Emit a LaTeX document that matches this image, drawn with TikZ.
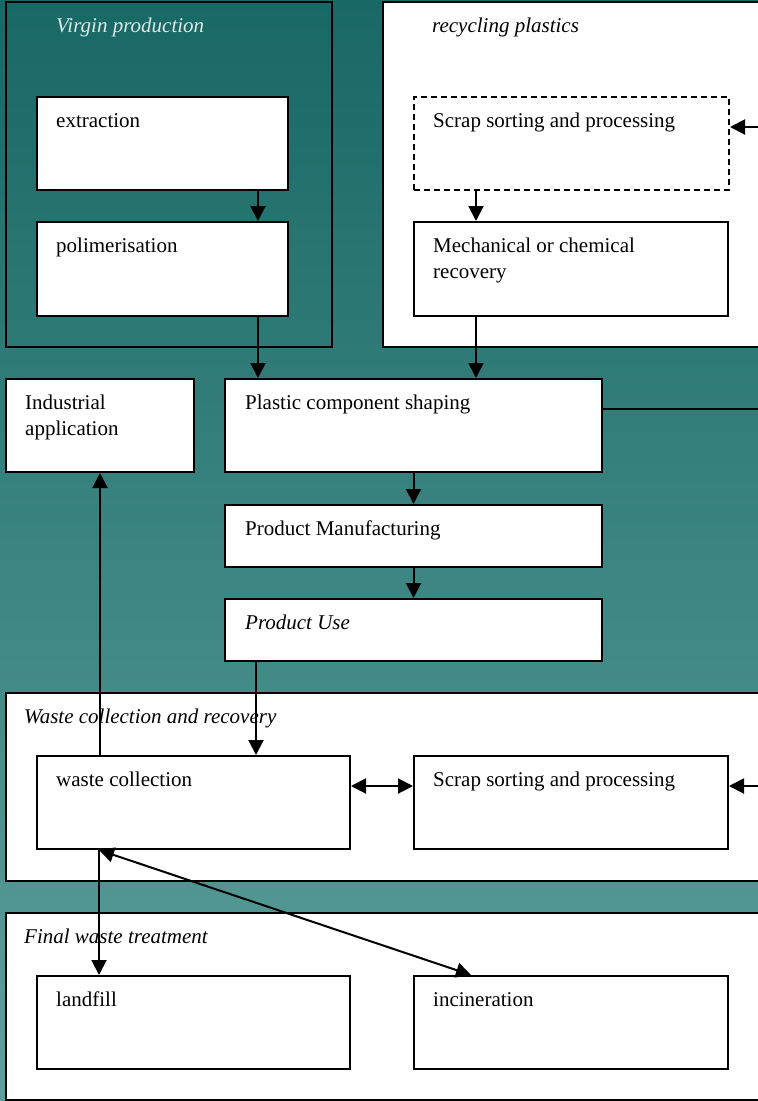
\documentclass[tikz,border=0pt]{standalone}
\usepackage{fontspec}
\setmainfont{Liberation Serif}
\usetikzlibrary{arrows.meta,calc,positioning}
\definecolor{bgtop}{RGB}{24,104,101}
\definecolor{bgbot}{RGB}{94,160,157}
\definecolor{paletitle}{RGB}{222,232,231}
\tikzset{
  grp/.style={draw,line width=2pt,anchor=north west,inner sep=0pt},
  box/.style={draw,line width=2pt,fill=white,anchor=north west,inner sep=0pt},
  txt/.style={anchor=base west,inner sep=0pt,align=left,font=\fontsize{21}{26}\selectfont},
  flow/.style={line width=2pt,-{Triangle[length=15pt,width=15pt]}},
  both/.style={line width=2pt,{Triangle[length=15pt,width=15pt]}-{Triangle[length=15pt,width=15pt]}},
}
\begin{document}
\begin{tikzpicture}[x=1pt,y=-1pt]
\useasboundingbox (0,0) rectangle (758,1101);
\fill[top color=bgtop,bottom color=bgbot] (0,0) rectangle (758,1101);
% virgin production
\node[grp,minimum width=326pt,minimum height=345pt] (vprod) at (5,1) {};
\node[txt,font=\fontsize{21}{26}\selectfont\itshape,text=paletitle] (vprod-t) at ($(vprod.north west)+(51,31)$) {Virgin production};
\node[box,minimum width=251pt,minimum height=93pt] (extr) at (36,96) {};
\node[txt] (extr-t) at ($(extr.north west)+(20,31)$) {extraction};
\node[box,minimum width=251pt,minimum height=94pt] (polym) at (36,221) {};
\node[txt] (polym-t) at ($(polym.north west)+(20,31)$) {polimerisation};
% recycling plastics
\node[box,minimum width=380pt,minimum height=345pt] (recyc) at (382,1) {};
\node[txt,font=\fontsize{21}{26}\selectfont\itshape] (recyc-t) at ($(recyc.north west)+(50,31)$) {recycling plastics};
\node[box,dashed,dash pattern=on 6pt off 4pt,minimum width=315pt,minimum height=93pt] (scrapA) at (413,96) {};
\node[txt] (scrapA-t) at ($(scrapA.north west)+(20,31)$) {Scrap sorting and processing};
\node[box,minimum width=314pt,minimum height=94pt] (mech) at (413,221) {};
\node[txt] (mech-t) at ($(mech.north west)+(20,57)$) {Mechanical or chemical\\recovery};
% shaping, manufacturing, use
\node[box,minimum width=188pt,minimum height=93pt] (ind) at (5,378) {};
\node[txt] (ind-t) at ($(ind.north west)+(20,57)$) {Industrial\\application};
\node[box,minimum width=377pt,minimum height=93pt] (shape) at (224,378) {};
\node[txt] (shape-t) at ($(shape.north west)+(21,31)$) {Plastic component shaping};
\node[box,minimum width=377pt,minimum height=62pt] (manuf) at (224,504) {};
\node[txt] (manuf-t) at ($(manuf.north west)+(21,31)$) {Product Manufacturing};
\node[box,minimum width=377pt,minimum height=62pt] (use) at (224,598) {};
\node[txt,font=\fontsize{21}{26}\selectfont\itshape] (use-t) at ($(use.north west)+(21,31)$) {Product Use};
% waste collection and recovery
\node[box,minimum width=753pt,minimum height=188pt] (wgrp) at (5,692) {};
\node[txt,font=\fontsize{21}{26}\selectfont\itshape] (wgrp-t) at ($(wgrp.north west)+(19,31)$) {Waste collection and recovery};
\node[box,minimum width=313pt,minimum height=93pt] (wcoll) at (36,755) {};
\node[txt] (wcoll-t) at ($(wcoll.north west)+(20,31)$) {waste collection};
\node[box,minimum width=314pt,minimum height=93pt] (scrapB) at (413,755) {};
\node[txt] (scrapB-t) at ($(scrapB.north west)+(20,31)$) {Scrap sorting and processing};
% final waste treatment
\node[box,minimum width=753pt,minimum height=187pt] (fgrp) at (5,912) {};
\node[txt,font=\fontsize{21}{26}\selectfont\itshape] (fgrp-t) at ($(fgrp.north west)+(19,31)$) {Final waste treatment};
\node[box,minimum width=313pt,minimum height=93pt] (land) at (36,975) {};
\node[txt] (land-t) at ($(land.north west)+(20,31)$) {landfill};
\node[box,minimum width=314pt,minimum height=93pt] (incin) at (413,975) {};
\node[txt] (incin-t) at ($(incin.north west)+(20,31)$) {incineration};
% loose ends at the right rim
\coordinate (rimA) at (759,127);
\coordinate (rimB) at (759,409);
\coordinate (rimC) at (759,786);
% connectors
\draw[flow] ([xshift=-31pt]extr.south east) -- ([xshift=-31pt]polym.north east);
\draw[flow] ([xshift=-31pt]polym.south east) -- ([xshift=-31pt]polym.south east |- shape.north);
\draw[flow] ([xshift=63pt]scrapA.south west) -- ([xshift=63pt]mech.north west);
\draw[flow] ([xshift=63pt]mech.south west) -- ([xshift=63pt]mech.south west |- shape.north);
\draw[flow] (rimA) -- (rimA -| scrapA.east);
\draw[line width=2pt] (rimB -| shape.east) -- (rimB);
\draw[flow] (shape.south) -- (manuf.north);
\draw[flow] (manuf.south) -- (use.north);
\draw[flow] ([xshift=32pt]use.south west) -- ([xshift=32pt]use.south west |- wcoll.north);
\draw[flow] (ind.south |- wcoll.north) -- (ind.south);
\draw[both] ([yshift=-31pt]wcoll.north east) -- ([yshift=-31pt]scrapB.north west);
\draw[flow] (rimC) -- (rimC -| scrapB.east);
\draw[flow] ([xshift=63pt]wcoll.south west) -- ([xshift=63pt]land.north west);
\draw[both] ([xshift=63pt]wcoll.south west) -- ([xshift=58pt]incin.north west);
\end{tikzpicture}
\end{document}
